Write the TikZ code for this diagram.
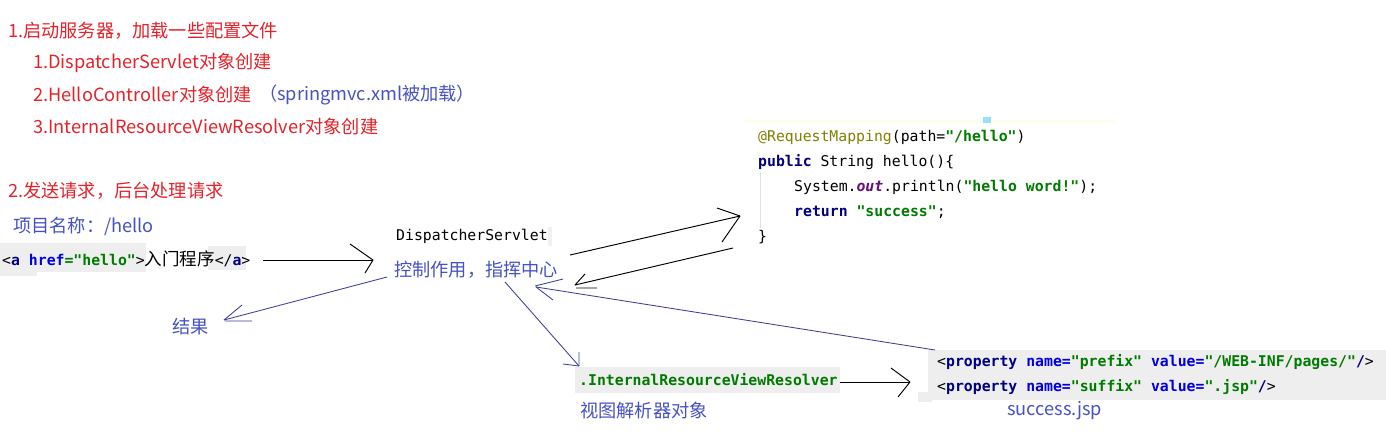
\documentclass[tikz,border=0pt]{standalone}
\usepackage{fontspec}
\setmainfont{Noto Sans CJK SC}
\newfontfamily\cjk{Noto Sans CJK SC}
\setmonofont{DejaVu Sans Mono}
\definecolor{myred}{HTML}{E4222B}
\definecolor{myblue}{HTML}{4652C2}
\definecolor{lineblue}{HTML}{3E3E98}
\definecolor{cnavy}{HTML}{000080}
\definecolor{cblue}{HTML}{0000E0}
\definecolor{cgreen}{HTML}{007A00}
\definecolor{cann}{HTML}{808000}
\definecolor{cpurple}{HTML}{660E7A}
\definecolor{cbg}{HTML}{EEEEEE}
\newcommand\cKw[1]{\textcolor{cnavy}{\bfseries #1}}
\newcommand\cStr[1]{\textcolor{cgreen}{\bfseries #1}}
\newcommand\cAttr[1]{\textcolor{cblue}{\bfseries #1}}
\newcommand\cAnn[1]{\textcolor{cann}{#1}}
\tikzset{
  txt/.style={anchor=west, inner sep=0pt, font=\fontsize{18.2}{21}\selectfont},
  redtxt/.style={txt, text=myred},
  bluetxt/.style={txt, text=myblue},
  codetxt/.style={anchor=west, inner sep=0pt, font=\fontsize{14.8}{17}\ttfamily, text=black},
  blk/.style={draw=black, line width=0.95pt},
  blu/.style={draw=lineblue, line width=0.85pt},
}
\begin{document}
\begin{tikzpicture}[x=1pt, y=-1pt]
\useasboundingbox (0,0) rectangle (1386,436);
\fill[white] (0,0) rectangle (1386,436);

% backgrounds
\fill[cbg] (0,243) rectangle (146,272);
\fill[cbg] (0,265) rectangle (37,276);
\fill[cbg] (208,246) rectangle (246,270);
\fill[cbg!80] (548,227) rectangle (552,246);
\fill[cbg] (575,367) rectangle (840,393);
\fill[cbg] (928,350) rectangle (1386,400);
\fill[cbg] (918,392) rectangle (932,402);
\fill[yellow!8] (745,120) rectangle (1115,123);
\fill[blue!30!cyan!40] (983,117) rectangle (991,123);
\draw[black!12, line width=0.8pt] (760,172) -- (760,228);

% left texts
\node[redtxt] (t1) at (8,31) {1.启动服务器，加载一些配置文件};
\node[redtxt] (t11) at (33,63) {1.DispatcherServlet对象创建};
\node[redtxt] (t12) at (33,95) {2.HelloController对象创建};
\node[bluetxt] (t12b) at (259,95) {（springmvc.xml被加载）};
\node[redtxt] (t13) at (33,127) {3.InternalResourceViewResolver对象创建};
\node[redtxt] (t2) at (8,191) {2.发送请求，后台处理请求};
\node[bluetxt] (proj) at (13,226) {项目名称：/hello};
\node[codetxt] (link) at (2,259) {<\cKw{a} \cAttr{href}\cStr{="hello"}>{\cjk\fontsize{17.5}{20}\selectfont 入门程序}</\cKw{a}>};

% middle
\node[codetxt] (ds) at (396,236) {DispatcherServlet};
\node[bluetxt] (ctrl) at (394,270) {控制作用，指挥中心};
\node[bluetxt] (result) at (172,327) {结果};

% code
\node[codetxt] (c1) at (758,137) {\cAnn{@RequestMapping}(path=\cStr{"/hello"})};
\node[codetxt] (c2) at (758,162) {\cKw{public} String hello()\{};
\node[codetxt] (c3) at (794,187) {System.\textcolor{cpurple}{\bfseries\itshape out}.println(\cStr{"hello word!"});};
\node[codetxt] (c4) at (794,212) {\cKw{return} \cStr{"success"};};
\node[codetxt] (c5) at (758,237) {\}};

% bottom
\node[codetxt] (ivr) at (579,380) {\cStr{.InternalResourceViewResolver}};
\node[bluetxt] (view) at (580,411) {视图解析器对象};
\node[codetxt] (p1) at (937,362) {<\cKw{property} \cAttr{name=}\cStr{"prefix"} \cAttr{value=}\cStr{"/WEB-INF/pages/"}\cKw{/}>};
\node[codetxt] (p2) at (937,387) {<\cKw{property} \cAttr{name=}\cStr{"suffix"} \cAttr{value=}\cStr{".jsp"}\cKw{/}>};
\node[bluetxt] (succ) at (1007,411) {success.jsp};

% connectors
\coordinate (a1s) at (263,260); \coordinate (a1e) at (373,260);
\draw[blk] (a1s) -- (a1e);
\draw[blk] (a1e) -- ++(-23,-16) (a1e) -- ++(-8,13);

\coordinate (a2s) at (570,255); \coordinate (a2e) at (740,216);
\draw[blk] (a2s) -- (a2e);
\draw[blk] (a2e) -- ++(-23,-8) (a2e) -- ++(-18,26);

\coordinate (a3s) at (733,248); \coordinate (a3e) at (575,285);
\draw[blk] (a3s) -- (a3e);
\draw[blk] (a3e) -- ++(10,-11) ([shift={(1,3)}]a3e) -- ++(21,0);

\coordinate (a4s) at (387,277); \coordinate (a4e) at (224,320);
\draw[blu] (a4s) -- (a4e);
\draw[blu] (a4e) -- ++(18,-15) ([shift={(1,1)}]a4e) -- ++(27,0);

\coordinate (a5s) at (505,282); \coordinate (a5e) at (579,366);
\draw[blu] (a5s) -- (a5e);
\draw[blu] (a5e) -- ++(0,-14) (a5e) -- ++(-16,-2);

\coordinate (a6s) at (935,350); \coordinate (a6e) at (536,287);
\draw[blu] (a6s) -- (a6e);
\draw[blu] ([shift={(-1,-1)}]a6e) -- ++(28,-7) (a6e) -- ++(17,13);

\coordinate (a7s) at (840,382); \coordinate (a7e) at (910,382);
\draw[blk] (a7s) -- (a7e);
\draw[blk] (a7e) -- ++(-19,-14) (a7e) -- ++(-12,15);
\end{tikzpicture}
\end{document}
